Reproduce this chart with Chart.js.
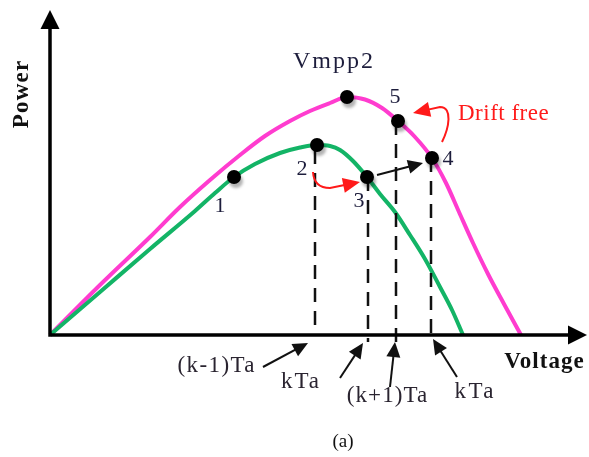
<!DOCTYPE html>
<html>
<head>
<meta charset="utf-8">
<script src="https://cdn.jsdelivr.net/npm/chart.js@4.4.0/dist/chart.umd.min.js"></script>
<style>
  html, body { margin: 0; padding: 0; background: #fff; }
  canvas { display: block; }
</style>
</head>
<body>
<canvas id="pv" width="589" height="457"></canvas>
<script>
// P-V curve before irradiance change (green)
const greenVoltage = [0, 10, 20, 29, 33, 36.8, 41, 46, 50, 53.4, 56, 58, 60.6, 63.4, 66, 69, 72, 75, 78, 80.4, 82.6];
const greenPower   = [0, 8.6, 17.2, 24.8, 28.4, 31.6, 34.2, 36.4, 37.5, 38, 37.8, 37, 34.8, 31.6, 28.2, 24.6, 20, 15.2, 9.6, 5, 0];

// P-V curve after irradiance increase (pink)
const pinkVoltage = [0, 10, 20, 26, 32, 38, 43, 48, 52, 56, 59.4, 63, 66.4, 69.6, 73, 76.4, 79.2, 81.8, 84.6, 87.6, 90.8, 94.2];
const pinkPower   = [0, 10, 19.6, 25.6, 31, 36, 39.8, 42.8, 44.8, 46.4, 47.6, 47.1, 45.4, 42.8, 39.6, 35.4, 30.4, 24.6, 18.4, 12.2, 6.2, 0];

// Operating points 1, 2, 3, Vmpp2, 5, 4
const pointVoltage = [36.8, 53.4, 63.4, 59.4, 69.6, 76.4];
const pointPower   = [31.6, 38, 31.6, 47.6, 42.8, 35.4];

// Sampling instants dropped onto the voltage axis
const dropVoltage = [53.0, 63.6, 69.2, 76.2];
const dropTop     = [37, 31.6, 42.8, 35.4];
const dropBottom  = [1.4, -1.4, -1.4, -1.4];

const SERIF = '"Liberation Serif", "Times New Roman", serif';

const toXY = (xs, ys) => xs.map((x, i) => ({ x, y: ys[i] }));

const dropSets = dropVoltage.map((v, i) => ({
  data: [{ x: v, y: dropTop[i] }, { x: v, y: dropBottom[i] }],
  showLine: true,
  borderColor: '#111',
  borderWidth: 2.5,
  borderDash: [14, 9],
  pointRadius: 0,
  order: 1
}));

// axes with arrowheads, arrows and text annotations
const decor = {
  id: 'decor',
  beforeDatasetDraw(chart, args) {
    if (args.index === 0) {
      const c = chart.ctx;
      c.save();
      c.shadowColor = 'rgba(0,0,0,0.3)';
      c.shadowBlur = 3;
      c.shadowOffsetX = 2;
      c.shadowOffsetY = 4;
    }
  },
  afterDatasetDraw(chart, args) {
    if (args.index === 0) chart.ctx.restore();
  },
  afterDraw(chart) {
    const c = chart.ctx;
    const xs = chart.scales.x, ys = chart.scales.y;
    const P = (x, y) => [xs.getPixelForValue(x), ys.getPixelForValue(y)];
    const ox = xs.getPixelForValue(0), oy = ys.getPixelForValue(0);
    const ca = chart.chartArea;

    const head = (tx, ty, ang, len, half, color) => {
      c.fillStyle = color;
      c.beginPath();
      c.moveTo(tx, ty);
      c.lineTo(tx - len * Math.cos(ang) + half * Math.sin(ang), ty - len * Math.sin(ang) - half * Math.cos(ang));
      c.lineTo(tx - len * Math.cos(ang) - half * Math.sin(ang), ty - len * Math.sin(ang) + half * Math.cos(ang));
      c.closePath();
      c.fill();
    };

    c.save();
    // axes
    c.strokeStyle = '#000';
    c.lineWidth = 3.5;
    c.lineCap = 'butt';
    c.beginPath();
    c.moveTo(ox, ca.top + 16);
    c.lineTo(ox, oy);
    c.lineTo(ca.right - 16, oy);
    c.stroke();
    head(ox, ca.top, -Math.PI / 2, 19, 9.5, '#000');
    head(ca.right, oy, 0, 19, 9.5, '#000');

    // straight black arrows
    const arrow = (a, b) => {
      const [x1, y1] = P(a[0], a[1]);
      const [x2, y2] = P(b[0], b[1]);
      const ang = Math.atan2(y2 - y1, x2 - x1);
      c.strokeStyle = '#111';
      c.lineWidth = 2;
      c.beginPath();
      c.moveTo(x1, y1);
      c.lineTo(x2 - 10 * Math.cos(ang), y2 - 10 * Math.sin(ang));
      c.stroke();
      head(x2, y2, ang, 15, 7, '#111');
    };
    arrow([42.6, -6.4], [51.6, -1.6]);
    arrow([58, -8.6], [62.6, -1.6]);
    arrow([68, -10.4], [69, -1.4]);
    arrow([81.4, -8.4], [76.6, -0.8]);
    arrow([65.4, 32], [74.6, 34.4]);

    // curved red arrows
    const red = '#ff1a1a';
    c.strokeStyle = red;
    c.lineWidth = 2;
    let p0 = P(52.6, 32.6), q = P(52.8, 29.4), p1 = P(56, 29.4), t = P(62, 30.6);
    c.beginPath();
    c.moveTo(...p0);
    c.quadraticCurveTo(...q, ...p1);
    let ang = Math.atan2(t[1] - p1[1], t[0] - p1[0]);
    c.lineTo(t[0] - 12 * Math.cos(ang), t[1] - 12 * Math.sin(ang));
    c.stroke();
    head(t[0], t[1], ang, 17, 7.5, red);

    p0 = P(78.4, 38.6);
    const b1 = P(79.8, 41.4), b2 = P(80.6, 45.6);
    p1 = P(78, 45.6);
    t = P(72.6, 44.4);
    c.beginPath();
    c.moveTo(...p0);
    c.bezierCurveTo(...b1, ...b2, ...p1);
    ang = Math.atan2(t[1] - p1[1], t[0] - p1[0]);
    c.lineTo(t[0] - 12 * Math.cos(ang), t[1] - 12 * Math.sin(ang));
    c.stroke();
    head(t[0], t[1], ang, 17, 7.5, red);

    // text
    const text = (s, x, y, font, color, spacing, align) => {
      const [px, py] = P(x, y);
      c.font = font;
      c.letterSpacing = (spacing || 0) + 'px';
      c.fillStyle = color;
      c.textAlign = align || 'center';
      c.textBaseline = 'alphabetic';
      c.fillText(s, px + (align ? 0 : (spacing || 0) / 2), py);
    };
    const navy = '#1d1d3c';
    const dark = '#2a2430';
    text('Vmpp2', 56.6, 53.4, '24px ' + SERIF, navy, 2);
    text('1', 34, 24.6, '22px ' + SERIF, navy);
    text('2', 50.4, 32, '22px ' + SERIF, navy);
    text('3', 61.8, 25.6, '22px ' + SERIF, navy);
    text('4', 79.6, 34, '22px ' + SERIF, navy);
    text('5', 69, 46.4, '22px ' + SERIF, navy);
    text('Drift free', 81.6, 43, '23px ' + SERIF, red, 0.5, 'left');
    text('(k-1)Ta', 33.2, -7.4, '23px ' + SERIF, dark, 1.4);
    text('kTa', 50, -10.6, '23px ' + SERIF, dark, 2);
    text('(k+1)Ta', 67.4, -13.4, '23px ' + SERIF, dark, 1.1);
    text('kTa', 84.8, -12.6, '23px ' + SERIF, dark, 2.5);
    text('Voltage', 98.8, -6.6, 'bold 23px ' + SERIF, '#111', 1);
    text('(a)', 58.6, -22.4, '19px ' + SERIF, '#111');

    const [vx, vy] = P(-5.6, 48.2);
    c.translate(vx, vy);
    c.rotate(-Math.PI / 2);
    c.font = 'bold 23px ' + SERIF;
    c.letterSpacing = '1.2px';
    c.fillStyle = '#111';
    c.textAlign = 'center';
    c.textBaseline = 'middle';
    c.fillText('Power', 0, 0);
    c.restore();
  }
};

new Chart(document.getElementById('pv'), {
  type: 'scatter',
  data: {
    datasets: [
      {
        data: toXY(pointVoltage, pointPower),
        pointRadius: 7,
        pointBackgroundColor: '#000',
        pointBorderWidth: 0,
        order: 0
      },
      {
        data: toXY(greenVoltage, greenPower),
        showLine: true,
        borderColor: '#13b466',
        borderWidth: 4,
        pointRadius: 0,
        cubicInterpolationMode: 'monotone',
        order: 2
      },
      {
        data: toXY(pinkVoltage, pinkPower),
        showLine: true,
        borderColor: '#ff3ccf',
        borderWidth: 4,
        pointRadius: 0,
        cubicInterpolationMode: 'monotone',
        order: 2
      },
      ...dropSets
    ]
  },
  options: {
    responsive: false,
    animation: false,
    clip: false,
    layout: { autoPadding: false, padding: { left: 50, right: 2, top: 10, bottom: 122 } },
    scales: {
      x: { type: 'linear', min: 0, max: 107.4, display: false },
      y: { type: 'linear', min: 0, max: 65, display: false }
    },
    plugins: { legend: { display: false }, tooltip: { enabled: false } }
  },
  plugins: [decor]
});
</script>
</body>
</html>
